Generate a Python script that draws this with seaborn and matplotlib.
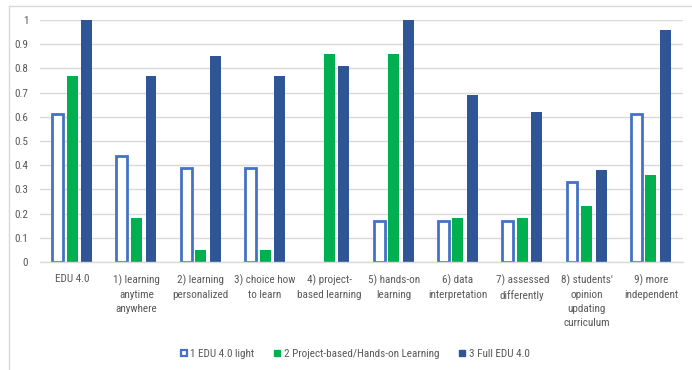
import matplotlib
matplotlib.use("Agg")
import matplotlib.pyplot as plt
from matplotlib import font_manager
from matplotlib.lines import Line2D
from matplotlib.patches import Patch
import seaborn as sns
import pandas as pd

categories = [
    "EDU 4.0",
    "1) learning\nanytime\nanywhere",
    "2) learning\npersonalized",
    "3) choice how\nto learn",
    "4) project-\nbased learning",
    "5) hands-on\nlearning",
    "6) data\ninterpretation",
    "7) assessed\ndifferently",
    "8) students'\nopinion\nupdating\ncurriculum",
    "9) more\nindependent",
]
series_names = ["1 EDU 4.0 light", "2 Project-based/Hands-on Learning", "3 Full EDU 4.0"]
edu_light = [0.61, 0.44, 0.39, 0.39, 0.0, 0.17, 0.17, 0.17, 0.33, 0.61]
project_based = [0.77, 0.18, 0.05, 0.05, 0.86, 0.86, 0.18, 0.18, 0.23, 0.36]
full_edu = [1.00, 0.77, 0.85, 0.77, 0.81, 1.00, 0.69, 0.62, 0.38, 0.96]
y_ticks = [0, 0.1, 0.2, 0.3, 0.4, 0.5, 0.6, 0.7, 0.8, 0.9, 1]

LIGHT_EDGE = "#4472C4"
GREEN = "#00B050"
DARK = "#2F5597"
TEXT = "#595959"
GRID = "#D9D9D9"

rows = []
for name, vals in zip(series_names, [edu_light, project_based, full_edu]):
    for cat, v in zip(categories, vals):
        rows.append({"category": cat, "series": name, "value": v})
df = pd.DataFrame(rows)

sns.set_style("white")

# pick a narrow sans face if one is available
installed = {f.name for f in font_manager.fontManager.ttflist}
narrow_candidates = ["Liberation Sans Narrow", "Roboto Condensed", "Open Sans Condensed",
                     "DejaVu Sans Condensed", "Noto Sans Condensed", "Arial Narrow"]
narrow = [n for n in narrow_candidates if n in installed]
condensed_ok = bool(narrow)
plt.rcParams["font.family"] = (narrow[:1] or ["Liberation Sans"]) + ["DejaVu Sans"]
fs = 8.0 if condensed_ok else 6.7

fig = plt.figure(figsize=(6.92, 3.70), dpi=100)
ax = fig.add_axes([40 / 692, 1 - 262 / 370, 643 / 692, 242 / 370])

sns.barplot(
    data=df, x="category", y="value", hue="series",
    order=categories, hue_order=series_names,
    palette=[LIGHT_EDGE, GREEN, DARK],
    width=0.68, gap=0.25, errorbar=None, legend=False, ax=ax,
    linewidth=0, saturation=1,
)

# first series is drawn as outlined bars
for bar in ax.containers[0]:
    bar.set_facecolor("white")
    bar.set_edgecolor(LIGHT_EDGE)
    bar.set_linewidth(2.0)
    if bar.get_height() == 0:
        bar.set_visible(False)

ax.set_ylim(0, 1)
ax.set_xlim(-0.5, len(categories) - 0.5)
ax.set_yticks(y_ticks)
ax.set_yticklabels([f"{t:g}" for t in y_ticks])
ax.yaxis.grid(True, color=GRID, linewidth=1)
ax.set_axisbelow(True)
for s in ["top", "right", "left"]:
    ax.spines[s].set_visible(False)
ax.spines["bottom"].set_color(GRID)
ax.spines["bottom"].set_linewidth(1)
ax.tick_params(axis="both", length=0, colors=TEXT, labelsize=fs)
ax.tick_params(axis="y", pad=8.5)
ax.tick_params(axis="x", pad=9)
ax.set_xlabel("")
ax.set_ylabel("")
for lbl in ax.get_xticklabels():
    lbl.set_linespacing(1.5)

handles = [
    Patch(facecolor="white", edgecolor=LIGHT_EDGE, linewidth=1.6),
    Patch(facecolor=GREEN, edgecolor=GREEN),
    Patch(facecolor=DARK, edgecolor=DARK),
]
fig.legend(
    handles, series_names, loc="center", bbox_to_anchor=(355 / 692, 1 - 354 / 370),
    ncol=3, frameon=False, fontsize=fs, labelcolor=TEXT,
    handlelength=0.55, handleheight=0.55, handletextpad=0.3, columnspacing=1.8,
)

# chart area border
fig.add_artist(Line2D([9 / 692, 9 / 692], [0, 1 - 6 / 370], color=GRID, linewidth=1))
fig.add_artist(Line2D([9 / 692, 1], [1 - 6 / 370, 1 - 6 / 370], color=GRID, linewidth=1))

fig.savefig("out.png", dpi=100)
